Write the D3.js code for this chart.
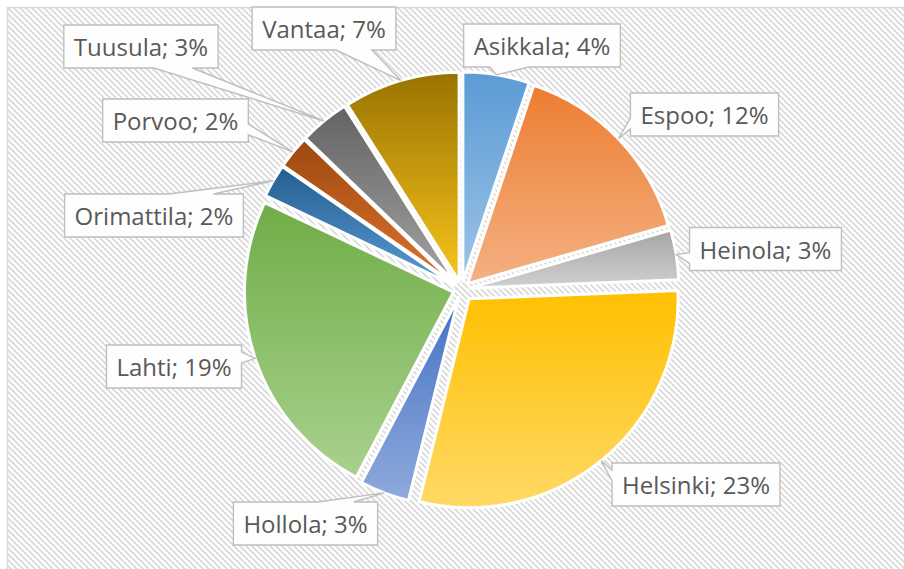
<!DOCTYPE html>
<html lang="en">
<head>
<meta charset="utf-8">
<title>Kunnat pie</title>
<script src="https://cdn.jsdelivr.net/npm/d3@7"></script>
<style>
  body { margin: 0; background: #fff; }
  .lbl text { font: 24px "Open Sans", sans-serif; fill: #595959; }
  .lbl path { fill: rgba(255,255,255,0.9); stroke: #bfbfbf; stroke-width: 1.4; }
</style>
</head>
<body>
<svg id="chart" width="904" height="569"></svg>
<script>
var towns = ['Asikkala', 'Espoo', 'Heinola', 'Helsinki', 'Hollola', 'Lahti', 'Orimattila', 'Porvoo', 'Tuusula', 'Vantaa'];
var shares = [4, 12, 3, 23, 3, 19, 2, 2, 3, 7];

// gradient top / bottom colour for each slice
var topColors = ['#5b9bd5', '#ed7d31', '#a5a5a5', '#ffc000', '#4472c4', '#70ad47', '#255e91', '#9e480e', '#636363', '#997300'];
var bottomColors = ['#9dc3e6', '#f4b183', '#d0d0d0', '#ffd966', '#8faadc', '#a9d18e', '#5b9bd5', '#dd7530', '#a3a3a3', '#f8c41c'];

// how far each slice is pulled out
var explode = [8.5, 8.5, 8.5, 12, 8.5, 8.5, 8.5, 8.5, 8.5, 8.5];

// label box centres (layout)
var labelX = [542, 704.5, 765.5, 696, 305.5, 174, 154, 175.5, 141, 324];
var labelY = [45.5, 114.5, 249, 484.5, 523.5, 366.5, 215.5, 120.5, 46.5, 28.5];

var svg = d3.select('#chart');
var defs = svg.append('defs');

// background hatch
var hatch = defs.append('pattern')
  .attr('id', 'hatch')
  .attr('patternUnits', 'userSpaceOnUse')
  .attr('width', 6).attr('height', 6);
hatch.append('rect').attr('width', 6).attr('height', 6).attr('fill', '#fff');
hatch.append('path')
  .attr('d', 'M0,0L6,6M-1,5L1,7M5,-1L7,1')
  .attr('stroke', '#dadada').attr('stroke-width', 1.8);

svg.append('rect')
  .attr('x', 7.5).attr('y', 7.5)
  .attr('width', 1000).attr('height', 1000)
  .attr('fill', 'url(#hatch)')
  .attr('stroke', '#d9d9d9').attr('stroke-width', 1.5);

shares.forEach(function(d, i) {
  var g = defs.append('linearGradient')
    .attr('id', 'grad' + i)
    .attr('x1', 0).attr('y1', 0).attr('x2', 0).attr('y2', 1);
  g.append('stop').attr('offset', '0%').attr('stop-color', topColors[i]);
  g.append('stop').attr('offset', '100%').attr('stop-color', bottomColors[i]);
});

var cx = 461.5, cy = 289.5, radius = 209;

var pie = d3.pie().sort(null).value(function(d) { return d; });
var arcs = pie(shares);
var arc = d3.arc().innerRadius(0).outerRadius(radius);

function offset(d, i) {
  var mid = (d.startAngle + d.endAngle) / 2;
  return [explode[i] * Math.sin(mid), -explode[i] * Math.cos(mid)];
}

var plot = svg.append('g').attr('transform', 'translate(' + cx + ',' + cy + ')');

plot.selectAll('path.slice')
  .data(arcs)
  .enter()
  .append('path')
  .attr('class', 'slice')
  .attr('transform', function(d, i) {
    var o = offset(d, i);
    return 'translate(' + o[0] + ',' + o[1] + ')';
  })
  .attr('d', arc)
  .attr('fill', function(d, i) { return 'url(#grad' + i + ')'; })
  .attr('stroke', '#fff')
  .attr('stroke-width', 3)
  .attr('stroke-linejoin', 'round');

// Excel style wedge callout: rectangle with a tail pointing at (px,py)
function callout(l, t, w, h, px, py) {
  var r = l + w, b = t + h;
  var dxPos = px - (l + w / 2), dyPos = py - (t + h / 2);
  var dq = dxPos * h / w;
  var x1 = l + w * (dxPos > 0 ? 7 : 2) / 12, x2 = l + w * (dxPos > 0 ? 10 : 5) / 12;
  var y1 = t + h * (dyPos > 0 ? 7 : 2) / 12, y2 = t + h * (dyPos > 0 ? 10 : 5) / 12;
  var p;
  if (Math.abs(dyPos) > Math.abs(dq)) {
    if (dyPos < 0) p = [[l, t], [x1, t], [px, py], [x2, t], [r, t], [r, b], [l, b]];
    else p = [[l, t], [r, t], [r, b], [x2, b], [px, py], [x1, b], [l, b]];
  } else {
    if (dxPos < 0) p = [[l, t], [r, t], [r, b], [l, b], [l, y2], [px, py], [l, y1]];
    else p = [[l, t], [r, t], [r, y1], [px, py], [r, y2], [r, b], [l, b]];
  }
  return 'M' + p.join('L') + 'Z';
}

var labels = svg.selectAll('g.lbl')
  .data(arcs)
  .enter()
  .append('g')
  .attr('class', 'lbl');

labels.append('path');
labels.append('text')
  .attr('text-anchor', 'middle')
  .attr('x', function(d, i) { return labelX[i]; })
  .attr('y', function(d, i) { return labelY[i] + 9.5; })
  .text(function(d, i) { return towns[i] + '; ' + shares[i] + '%'; });

labels.select('path')
  .attr('d', function(d, i) {
    var w = this.parentNode.querySelector('text').getComputedTextLength() + 20;
    var h = 43;
    var mid = (d.startAngle + d.endAngle) / 2;
    var o = offset(d, i);
    var px = cx + o[0] + radius * Math.sin(mid);
    var py = cy + o[1] - radius * Math.cos(mid);
    return callout(labelX[i] - w / 2, labelY[i] - h / 2, w, h, px, py);
  });
</script>
</body>
</html>
